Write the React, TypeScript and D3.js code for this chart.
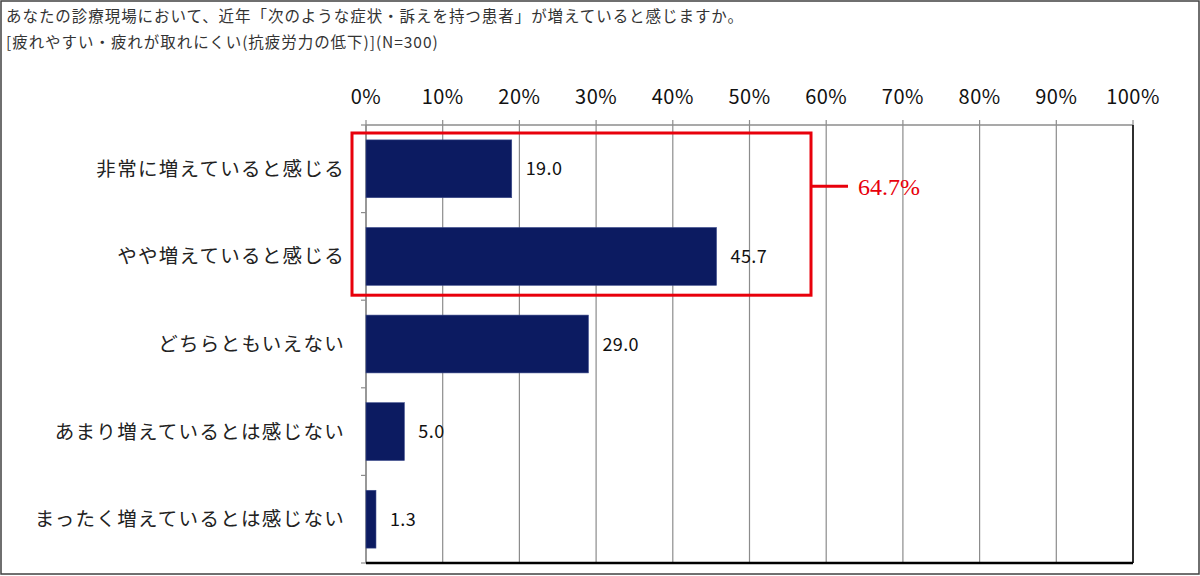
import React, { useEffect } from "react";
import * as d3 from "d3";

const titleLines = [
  "あなたの診療現場において、近年「次のような症状・訴えを持つ患者」が増えていると感じますか。",
  "[疲れやすい・疲れが取れにくい(抗疲労力の低下)](N=300)",
];
const categories = [
  "非常に増えていると感じる",
  "やや増えていると感じる",
  "どちらともいえない",
  "あまり増えているとは感じない",
  "まったく増えているとは感じない",
];
const values = [19.0, 45.7, 29.0, 5.0, 1.3];
const ticks = [0, 10, 20, 30, 40, 50, 60, 70, 80, 90, 100];
const highlightLabel = "64.7%";

export default function App() {
  useEffect(() => {
    document.body.style.margin = "0";
  }, []);

  const W = 1200, H = 576;
  const left = 366, right = 1133, top = 125, bottom = 563;
  const x = d3.scaleLinear().domain([0, 100]).range([left, right]);
  const y = d3.scaleBand<string>().domain(categories).range([top, bottom]).paddingInner(0.34).paddingOuter(0.17);
  const yb = d3.scaleBand<string>().domain(categories).range([top, bottom]);
  const font = "'Noto Sans CJK JP', 'Noto Sans', sans-serif";

  const boxTop = (yb(categories[0]) as number) + 8;
  const boxBottom = (yb(categories[1]) as number) + yb.bandwidth() - 5;
  const boxLeft = 352, boxRight = 811;
  const boxMid = (yb(categories[0]) as number) + yb.bandwidth() * 0.7;

  return (
    <svg width={W} height={H} style={{ display: "block", background: "#fff" }} fontFamily={font}>
      <rect x={1} y={1} width={W - 2} height={H - 3} fill="#fff" stroke="#404040" strokeWidth={1.5} />
      {titleLines.map((t, i) => (
        <text key={i} x={6} y={22 + i * 26} fontSize={15.5} letterSpacing={0.95} fill="#333">{t}</text>
      ))}
      {ticks.map((t) => (
        <g key={t}>
          <line x1={x(t)} x2={x(t)} y1={top - 5} y2={bottom} stroke="#8c8c8c" strokeWidth={1.2} />
          <text x={x(t)} y={104} fontSize={20} letterSpacing={0.5} textAnchor="middle" fill="#111">{t}%</text>
        </g>
      ))}
      <line x1={left} x2={right} y1={top} y2={top} stroke="#8c8c8c" strokeWidth={1.5} />
      <line x1={left} x2={left} y1={top} y2={bottom} stroke="#8c8c8c" strokeWidth={1.5} />
      {categories.map((c, i) => (
        <line key={"tk" + i} x1={left - 5} x2={left} y1={(yb(c) as number)} y2={(yb(c) as number)} stroke="#8c8c8c" strokeWidth={1.2} />
      ))}
      <line x1={left - 5} x2={left} y1={bottom} y2={bottom} stroke="#8c8c8c" strokeWidth={1.2} />
      {categories.map((c, i) => (
        <g key={c}>
          <rect x={x(0)} y={y(c)} width={x(values[i]) - x(0)} height={y.bandwidth()} fill="#0c1b61" stroke="#3b4a8a" strokeWidth={0.6} />
          <text x={x(values[i]) + 14} y={(y(c) as number) + y.bandwidth() / 2 + 6.5} fontSize={18} letterSpacing={0.4} fill="#111">{values[i].toFixed(1)}</text>
          <text x={345} y={(yb(c) as number) + yb.bandwidth() / 2 + 7} fontSize={19.5} letterSpacing={1.3} textAnchor="end" fill="#222">{c}</text>
        </g>
      ))}
      <line x1={right} x2={right} y1={top} y2={bottom} stroke="#000" strokeWidth={1.5} />
      <line x1={left} x2={right} y1={bottom} y2={bottom} stroke="#000" strokeWidth={2.5} />
      <rect x={boxLeft} y={boxTop} width={boxRight - boxLeft} height={boxBottom - boxTop} fill="none" stroke="#e8000b" strokeWidth={3} />
      <line x1={boxRight} x2={848} y1={boxMid} y2={boxMid} stroke="#e8000b" strokeWidth={3} />
      <text x={858} y={boxMid + 8.5} fontSize={24} fill="#e8000b" fontFamily="'Liberation Serif', 'DejaVu Serif', serif">{highlightLabel}</text>
    </svg>
  );
}
